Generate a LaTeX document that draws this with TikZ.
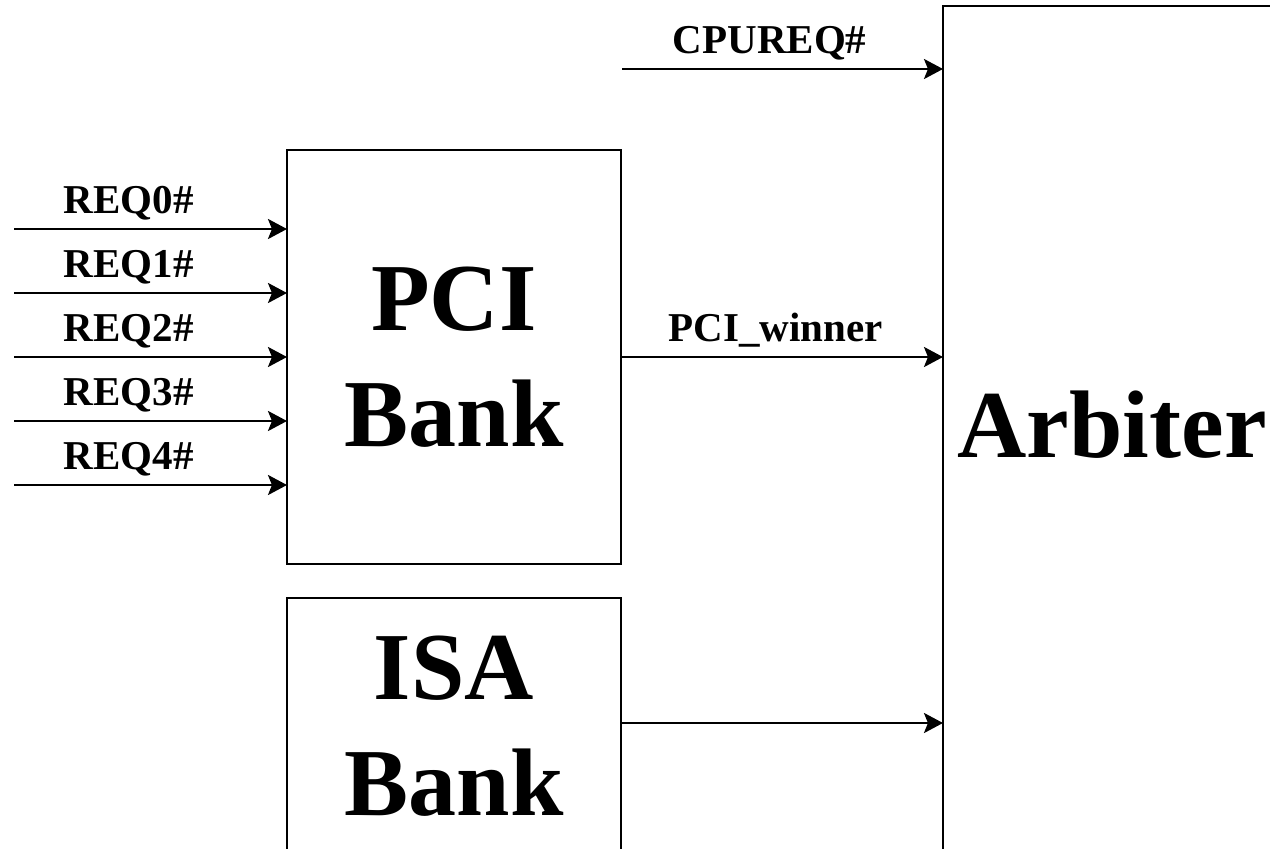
\documentclass[tikz,border=0pt]{standalone}
\usepackage{fontspec}
\setmainfont{Liberation Serif}
\usetikzlibrary{arrows.meta}
\tikzset{
    bankbox/.style = {
        rectangle,
        draw=black,
        line width=2.6pt,
        align=center,
        font=\bfseries\fontsize{96}{116}\selectfont,
        inner sep=0pt,
        outer sep=0pt
    },
    bigtext/.style = {
        font=\bfseries\fontsize{96}{116}\selectfont,
        inner sep=0pt
    },
    sigarrow/.style = {
        line width=2.6pt,
        -{Stealth[length=19pt, width=20pt, inset=4pt]}
    },
    siglabel/.style = {
        anchor=base,
        yshift=16pt,
        inner sep=0pt,
        font=\bfseries\fontsize{41}{49}\selectfont
    }
}
\begin{document}
\begin{tikzpicture}[x=1pt, y=-1pt]
    \useasboundingbox (0,0) rectangle (1270,849);
    \clip (0,0) rectangle (1270,849);
    % boxes
    \node [bankbox, minimum width=334, minimum height=414] (pcibank) at (454,357) {PCI\\Bank};
    \node [bankbox, minimum width=334, minimum height=256] (isabank) at (454,726) {ISA\\Bank};
    \node [bankbox, minimum width=340, minimum height=900, anchor=north west] (arbiter) at (943,6) {};
    \node [bigtext] (arbtext) at (1112,425) {Arbiter};
    % request lines into the PCI bank
    \foreach \i/\y in {0/229, 1/293, 2/357, 3/421, 4/485} {
        \coordinate (req\i) at (14,\y);
        \draw [sigarrow] (req\i) -- (req\i -| pcibank.west)
            node [siglabel, pos=0.42] (lreq\i) {REQ\i\#};
    }
    % lines into the arbiter
    \coordinate (cpureq) at (622,69);
    \draw [sigarrow] (cpureq) -- (cpureq -| arbiter.west)
        node [siglabel, pos=0.46] (lcpureq) {CPUREQ\#};
    \draw [sigarrow] (pcibank.east) -- (pcibank.east -| arbiter.west)
        node [siglabel, pos=0.48] (lwinner) {PCI\_winner};
    \coordinate (isaout) at (isabank.east |- 0,723);
    \draw [sigarrow] (isaout) -- (isaout -| arbiter.west);
\end{tikzpicture}
\end{document}
